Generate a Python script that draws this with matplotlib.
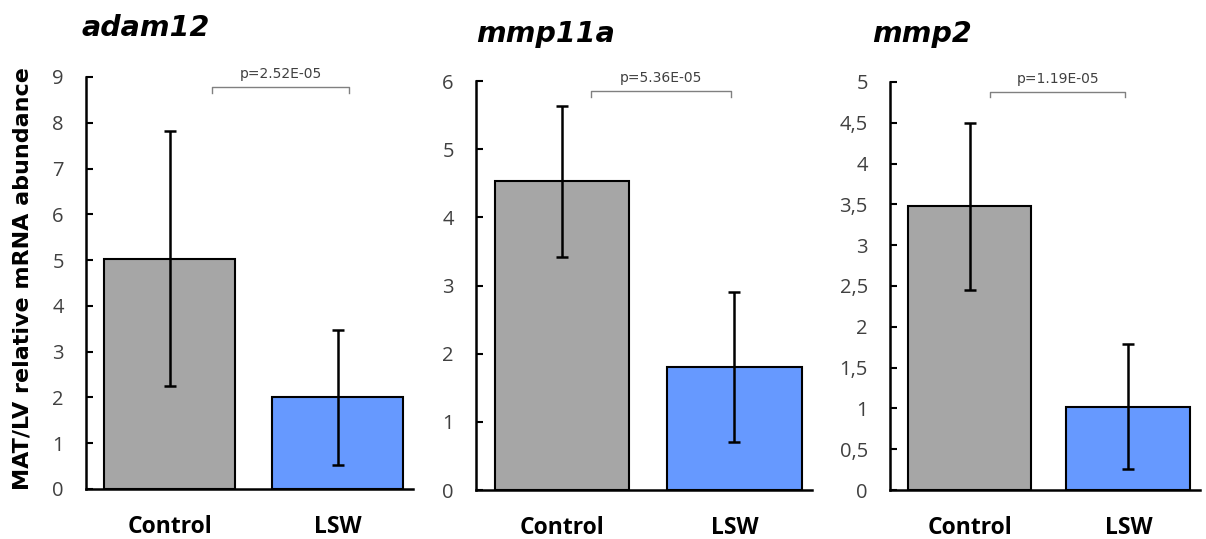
import numpy as np
import matplotlib
matplotlib.use("Agg")
import matplotlib.pyplot as plt

# data
genes = ["adam12", "mmp11a", "mmp2"]
groups = ["Control", "LSW"]
means = [[5.03, 2.00], [4.53, 1.81], [3.475, 1.02]]
errs = [[2.78, 1.47], [1.11, 1.10], [1.02, 0.765]]
pvals = ["p=2.52E-05", "p=5.36E-05", "p=1.19E-05"]
ymax = [9, 6, 5]
ystep = [1, 1, 0.5]

colors = ["#a6a6a6", "#6699ff"]

fig = plt.figure(figsize=(12.06, 5.39), dpi=100)

# axes boxes in figure fractions: left, bottom, width, height
boxes = [(0.0713, 0.0928, 0.2712, 0.7644),
         (0.3947, 0.0909, 0.2786, 0.7588),
         (0.7380, 0.0909, 0.2570, 0.7570)]
title_x = [0.068, 0.395, 0.723]
title_y = [0.948, 0.936, 0.936]
brackets = [(0.25, 1.07), (0.17, 0.98), (0.13, 0.98)]


def fmt(v):
    s = ("%g" % v)
    return s.replace(".", ",")


for i in range(3):
    ax = fig.add_axes(boxes[i])
    x = np.arange(len(groups))
    ax.bar(x, means[i], width=0.78, color=colors, edgecolor="black",
           linewidth=1.5, zorder=2)
    ax.errorbar(x, means[i], yerr=errs[i], fmt="none", ecolor="black",
                elinewidth=1.8, capsize=4.5, capthick=1.8, zorder=3)
    ax.set_xlim(-0.5, 1.45)
    ax.set_ylim(0, ymax[i])
    ticks = np.arange(0, ymax[i] + ystep[i] / 2, ystep[i])
    ax.set_yticks(ticks)
    ax.set_yticklabels([fmt(t) for t in ticks])
    ax.set_xticks(x)
    ax.set_xticklabels(groups, fontsize=16.5, fontweight="bold",
                       family="Open Sans")
    ax.tick_params(axis="x", length=0, pad=19)
    ax.tick_params(axis="y", direction="in", length=5, width=1.5,
                   labelsize=14.5, labelcolor="#404040", pad=16)
    for lab in ax.get_yticklabels():
        lab.set_family("Open Sans")
    for s in ["top", "right"]:
        ax.spines[s].set_visible(False)
    ax.spines["left"].set_linewidth(1.8)
    ax.spines["bottom"].set_linewidth(1.8)

    # significance bracket
    tr = ax.get_xaxis_transform()
    x0, x1 = brackets[i]
    ax.plot([x0, x0, x1, x1], [0.962, 0.975, 0.975, 0.962], color="#808080",
            lw=1.0, transform=tr, clip_on=False)
    ax.text((x0 + x1) / 2, 0.99, pvals[i], transform=tr, ha="center",
            va="bottom", fontsize=10, color="#404040", family="DejaVu Sans")

    fig.text(title_x[i], title_y[i], genes[i], fontsize=20.5,
             fontweight="bold", fontstyle="italic", va="center")

fig.text(0.019, 0.484, "MAT/LV relative mRNA abundance", rotation=90,
         ha="center", va="center", fontsize=16, fontweight="bold")

fig.savefig("out.png", dpi=100)
